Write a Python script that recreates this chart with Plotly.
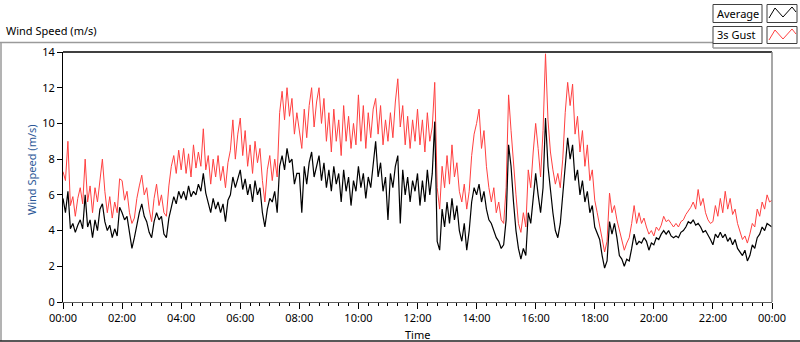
import pandas as pd
import plotly.graph_objects as go

# ---- data (5-minute samples) ----
avg_values = (
    [5.8,5.0,6.2,4.1,4.4,3.9,4.3,4.6,4.1,6.0,4.2,4.6] +
    [3.6,4.6,4.0,5.2,5.5,4.5,4.0,4.3,3.6,4.1,3.7,5.3] +
    [5.0,4.6,4.8,4.0,3.0,3.6,4.4,5.0,5.5,4.8,4.5,3.9] +
    [3.6,4.5,5.0,4.6,4.8,3.8,3.6,4.7,5.3,5.9,5.5,6.2] +
    [5.8,6.2,5.7,6.5,5.9,6.2,6.0,6.6,6.2,7.2,6.1,5.6] +
    [5.0,5.8,5.2,5.6,5.0,5.5,4.5,5.7,6.0,7.0,6.4,6.9] +
    [7.4,6.3,6.9,6.0,6.6,5.6,6.8,6.0,6.4,5.0,4.2,5.2] +
    [5.8,5.6,6.2,5.0,7.6,8.2,7.4,8.6,7.8,8.0,6.6,7.2] +
    [7.2,5.0,7.6,6.6,7.8,8.4,7.0,7.6,8.2,6.8,7.8,6.4] +
    [7.4,6.2,7.6,6.6,7.2,5.6,7.4,6.2,7.0,5.4,6.8,6.2] +
    [7.6,6.4,7.2,5.8,7.0,6.4,7.6,9.0,7.0,7.8,6.2,7.0] +
    [4.6,7.2,6.4,7.6,8.2,4.4,7.4,6.0,7.0,5.6,6.8,6.2] +
    [7.2,5.4,6.8,5.6,7.4,6.0,7.2,10.1,3.4,2.9,5.2,4.2] +
    [5.6,4.4,5.8,4.6,5.4,4.0,3.4,4.4,2.9,4.0,5.6,6.4] +
    [6.0,6.6,5.6,6.2,5.2,4.6,4.4,4.0,3.6,3.4,3.0,3.2] +
    [4.6,8.8,7.6,5.6,4.0,3.0,2.4,3.0,2.6,5.0,4.4,5.8] +
    [7.2,6.0,5.0,6.4,10.3,7.6,6.2,5.0,4.0,3.6,4.4,6.0] +
    [7.6,9.2,8.0,8.8,6.8,7.4,6.0,6.8,5.6,6.2,5.0,5.4] +
    [4.2,3.8,3.5,2.6,1.9,2.3,4.5,3.8,4.4,3.6,2.6,2.4] +
    [2.0,2.4,2.3,3.0,3.8,3.2,3.4,3.3,3.6,3.4,2.9,3.3] +
    [3.2,3.6,3.5,3.8,4.0,3.8,4.0,3.7,3.6,3.7,3.6,3.9] +
    [4.0,4.2,4.5,4.4,4.6,4.3,4.4,4.2,3.9,4.0,3.7,3.5] +
    [3.2,3.8,3.6,3.9,3.6,3.8,3.4,3.6,3.2,3.5,3.0,2.8] +
    [2.6,2.9,2.3,2.6,3.2,3.0,3.6,3.8,4.2,4.0,4.4,4.3] +
    [4.2]
)

gust_values = (
    [7.3,6.8,9.0,5.4,5.9,4.8,5.8,6.4,5.5,8.0,5.6,6.5] +
    [5.0,6.4,5.6,6.9,8.0,6.2,5.0,5.9,4.7,5.6,5.0,6.9] +
    [6.8,5.7,6.2,5.0,4.4,4.7,5.8,6.5,7.1,6.0,6.4,5.2] +
    [4.5,5.8,6.6,5.4,6.0,5.0,4.8,6.5,7.6,8.2,7.2,8.5] +
    [7.4,8.6,7.2,8.3,7.0,8.8,7.5,8.4,7.6,9.7,7.4,8.2] +
    [6.6,8.0,7.0,8.2,6.8,7.6,6.4,7.8,8.5,10.2,8.0,9.4] +
    [10.3,8.2,9.6,7.6,8.8,7.2,9.0,7.8,8.6,6.8,5.6,7.4] +
    [8.2,6.8,8.0,7.0,10.6,11.8,10.2,12.0,10.4,11.4,9.4,10.6] +
    [9.6,8.6,10.8,9.2,11.0,12.0,9.8,11.2,12.0,10.0,11.4,9.0] +
    [10.6,8.4,10.8,9.0,10.2,8.2,11.0,9.0,10.4,8.6,10.0,8.8] +
    [11.6,9.0,11.0,8.6,10.6,9.2,10.8,11.4,9.4,11.0,8.8,10.2] +
    [9.0,10.6,9.2,11.2,12.5,9.8,11.0,8.8,10.4,8.6,10.2,9.0] +
    [10.8,8.8,10.2,8.4,10.6,9.0,9.8,12.3,6.4,5.2,7.6,6.4] +
    [8.2,6.6,8.8,7.0,7.8,6.2,5.6,6.6,5.2,6.2,8.2,9.4] +
    [10.0,10.8,8.6,9.6,7.6,6.4,5.6,6.4,5.0,5.6,4.6,4.4] +
    [6.4,11.6,9.6,7.6,6.0,4.4,3.9,5.0,4.2,7.4,6.4,8.4] +
    [10.0,8.6,7.0,9.6,13.9,10.2,8.4,7.4,6.6,7.2,6.4,8.0] +
    [10.6,12.3,11.0,12.2,9.4,10.4,8.4,9.6,7.6,8.8,6.8,7.4] +
    [5.7,5.0,4.2,3.6,2.8,3.4,6.1,5.0,5.4,4.6,4.0,3.5] +
    [2.9,3.3,3.6,4.4,5.4,4.4,5.0,4.4,4.7,4.2,3.8,4.0] +
    [3.7,4.2,4.0,4.3,4.8,4.5,4.6,4.4,4.2,4.4,4.2,4.5] +
    [4.6,4.9,5.1,5.3,5.6,5.2,6.3,5.4,5.8,5.0,4.6,4.4] +
    [4.5,5.4,4.8,5.8,5.0,6.2,5.2,5.8,4.9,5.2,4.4,4.0] +
    [3.5,3.7,3.3,3.8,4.4,4.2,5.2,4.8,5.6,5.2,6.0,5.6] +
    [5.7]
)

series_names = ["Average", "3s Gust"]
times = pd.date_range("2024-01-01 00:00", "2024-01-02 00:00", freq="5min")

# ---- layout geometry (pixels) ----
W, H = 800, 342
L, R, T, B = 63, 772, 52, 302
PW, PH = R - L, B - T

def px(x):
    return (x - L) / PW

def py(y):
    return (B - y) / PH

FONT = "Noto Sans, Open Sans, Arial, sans-serif"
FS = 11
RED = "#ff4040"

fig = go.Figure()
fig.add_trace(go.Scatter(x=times, y=gust_values, mode="lines", name=series_names[1],
                         line=dict(color=RED, width=1)))
fig.add_trace(go.Scatter(x=times, y=avg_values, mode="lines", name=series_names[0],
                         line=dict(color="black", width=1.2)))

shapes = []
def seg(x0, y0, x1, y1, color, width=1):
    shapes.append(dict(type="line", xref="paper", yref="paper",
                       x0=px(x0), y0=py(y0), x1=px(x1), y1=py(y1),
                       line=dict(color=color, width=width)))

def rect(x0, y0, x1, y1, color, fill="white"):
    shapes.append(dict(type="rect", xref="paper", yref="paper",
                       x0=px(x0), y0=py(y0), x1=px(x1), y1=py(y1),
                       line=dict(color=color, width=1), fillcolor=fill))

def zig(pts, color):
    d = "M " + " L ".join(f"{px(a)},{py(b)}" for a, b in pts)
    shapes.append(dict(type="path", xref="paper", yref="paper", path=d,
                       line=dict(color=color, width=1)))

# outer frame
seg(0, 42.5, 713, 42.5, "#9a9a9a", 1.5)
seg(713, 42.5, 713, 48, "#9a9a9a", 1.5)
seg(713, 48, 800, 48, "#9a9a9a", 1.5)
seg(1, 42, 1, 341, "#9a9a9a", 1.5)
seg(0, 341, 800, 341, "#202020", 1.5)
# plot borders
seg(L, T, R, T, "black", 1.5)
seg(R, T, R, B, "#8a8a8a", 1.5)

# legend
rect(713, 4.5, 762, 22.5, "#404040")
rect(767, 4.5, 797, 22.5, "#404040")
rect(713, 26.5, 762, 43.5, "#404040")
rect(767, 26.5, 797, 43.5, "#404040")
zig([(769, 18), (775, 8), (783, 17), (792, 7), (796, 12)], "black")
zig([(769, 40), (775, 30), (783, 39), (792, 29), (796, 34)], RED)

annotations = [
    dict(text="Wind Speed (m/s)", x=px(4), y=py(31), xref="paper", yref="paper",
         xanchor="left", yanchor="middle", showarrow=False,
         font=dict(family=FONT, size=FS, color="black")),
    dict(text="Average", x=px(715), y=py(13.5), xref="paper", yref="paper",
         xanchor="left", yanchor="middle", showarrow=False,
         font=dict(family=FONT, size=FS, color="black")),
    dict(text="3s Gust", x=px(715), y=py(35), xref="paper", yref="paper",
         xanchor="left", yanchor="middle", showarrow=False,
         font=dict(family=FONT, size=FS, color="black")),
    dict(text="Wind Speed (m/s)", x=px(31), y=py(170), xref="paper", yref="paper",
         xanchor="center", yanchor="middle", textangle=-90, showarrow=False,
         font=dict(family=FONT, size=FS, color="#2b5797")),
    dict(text="Time", x=px(417), y=py(334), xref="paper", yref="paper",
         xanchor="center", yanchor="middle", showarrow=False,
         font=dict(family=FONT, size=FS, color="black")),
]

fig.update_layout(
    width=W, height=H,
    margin=dict(l=L, r=W - R, t=T, b=H - B, autoexpand=False),
    paper_bgcolor="white", plot_bgcolor="white",
    showlegend=False,
    shapes=shapes, annotations=annotations,
    font=dict(family=FONT, size=FS, color="black"),
)
fig.update_xaxes(
    type="date",
    range=[times[0], times[-1]],
    tickformat="%H:%M", dtick=2 * 3600 * 1000, tick0="2024-01-01 00:00",
    ticks="outside", ticklen=6, tickcolor="black", tickwidth=1,
    minor=dict(dtick=20 * 60 * 1000, ticks="outside", ticklen=3, tickcolor="black", tickwidth=1),
    showline=True, linecolor="#606060", linewidth=1,
    showgrid=False, zeroline=False,
    tickfont=dict(family=FONT, size=FS, color="black"),
)
fig.update_yaxes(
    range=[0, 14], dtick=2, tick0=0,
    ticks="outside", ticklen=5, tickcolor="black", tickwidth=1,
    showline=True, linecolor="black", linewidth=1,
    showgrid=False, zeroline=False,
    tickfont=dict(family=FONT, size=FS, color="black"),
)

fig.write_html(
    "out.html",
    config={"displayModeBar": False},
    post_script="document.body.style.margin='0';document.body.style.overflow='hidden';",
)
